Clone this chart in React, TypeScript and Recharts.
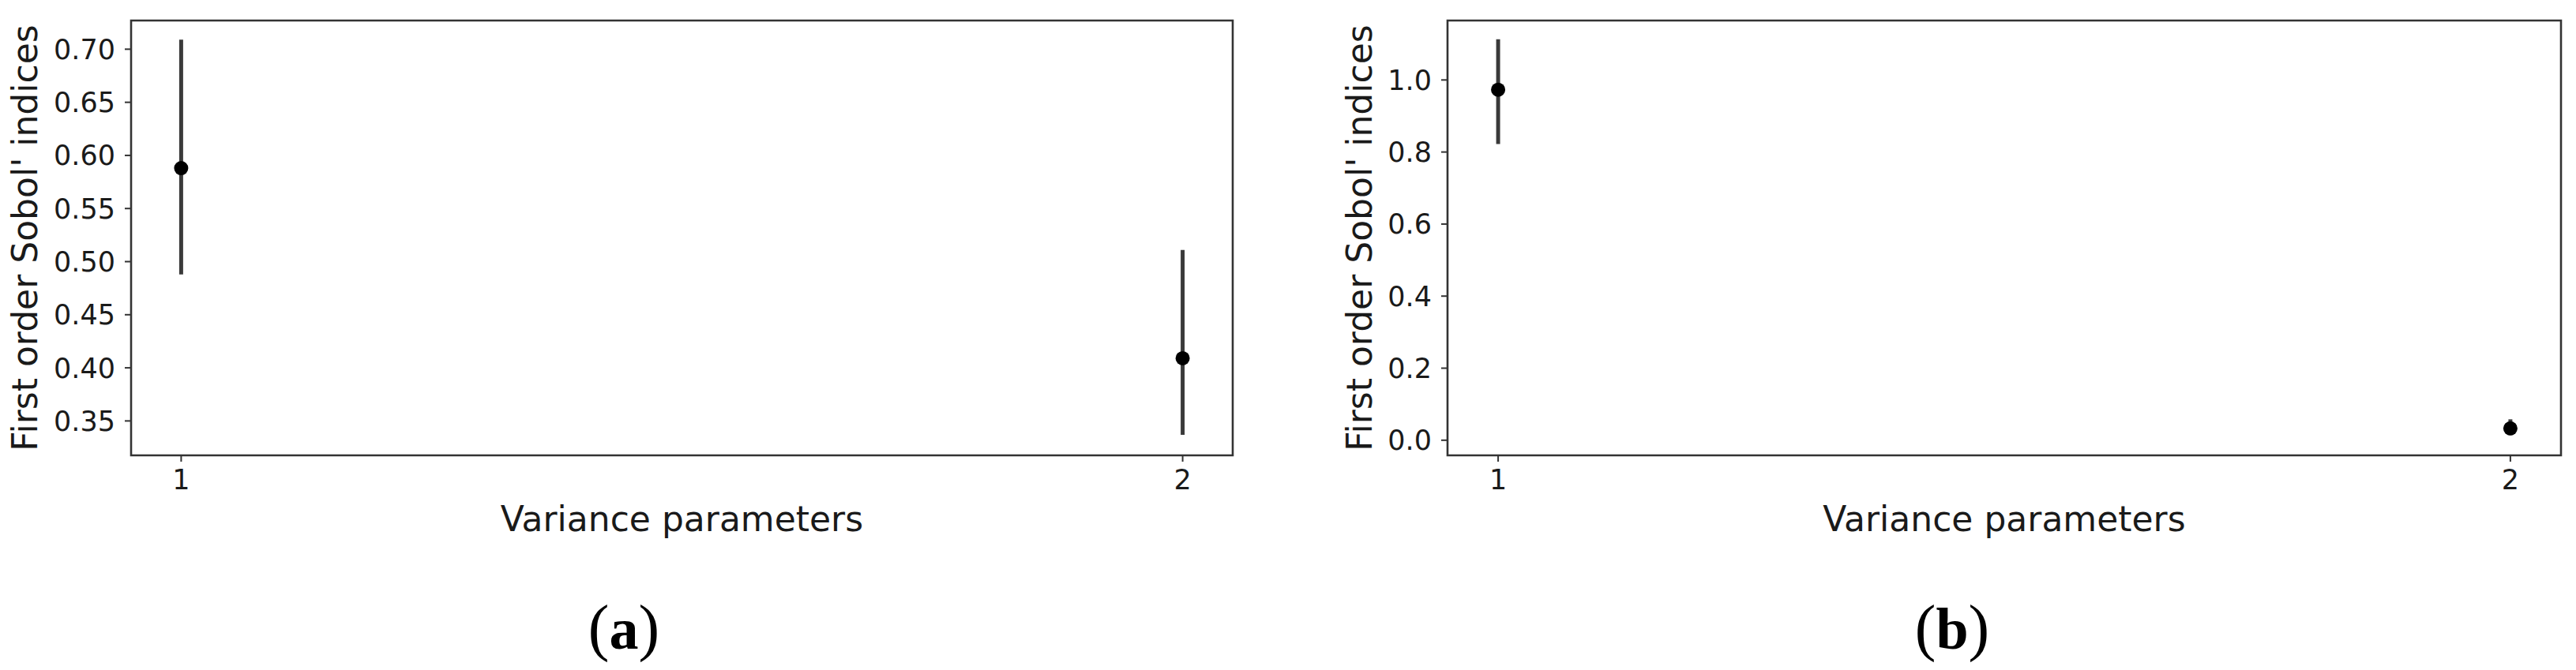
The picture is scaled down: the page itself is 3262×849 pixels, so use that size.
import React from "react";
import { ComposedChart, Scatter, XAxis, YAxis, ErrorBar, ReferenceArea } from "recharts";

// ---- data ----
const categories = [1, 2];
const xTicks = [1, 2];
const xDomain = [0.95, 2.05];

const valuesA = [0.588, 0.409];
const lowA = [0.488, 0.337];
const highA = [0.709, 0.511];
const yTicksA = [0.35, 0.4, 0.45, 0.5, 0.55, 0.6, 0.65, 0.7];
const yDomainA = [0.3176, 0.727];

const valuesB = [0.973, 0.033];
const lowB = [0.822, 0.014];
const highB = [1.113, 0.058];
const yTicksB = [0, 0.2, 0.4, 0.6, 0.8, 1.0];
const yDomainB = [-0.042, 1.165];

const xLabel = "Variance parameters";
const yLabel = "First order Sobol' indices";
const captionLetters = ["a", "b"];

const FONT = "DejaVu Sans";
const AXIS_COLOR = "#333333";

function buildData(vals: number[], lows: number[], highs: number[]) {
  return categories.map((c, i) => ({
    x: c,
    y: vals[i],
    err: [vals[i] - lows[i], highs[i] - vals[i]],
  }));
}

const Dot = (props: any) => <circle cx={props.cx} cy={props.cy} r={9} fill="#000" />;

type PanelProps = {
  left: number;
  yAxisWidth: number;
  marginRight: number;
  vals: number[];
  lows: number[];
  highs: number[];
  yTicks: number[];
  yDomain: number[];
  decimals: number;
  yLabelX: number;
};

function Panel(p: PanelProps) {
  const W = 1631;
  const H = 849;
  const data = buildData(p.vals, p.lows, p.highs);
  return (
    <div style={{ position: "absolute", left: p.left, top: 0, width: W, height: H }}>
      <ComposedChart
        width={W}
        height={H}
        data={data}
        margin={{ top: 26, left: 0, right: p.marginRight, bottom: 152 }}
      >
        <XAxis
          type="number"
          dataKey="x"
          domain={xDomain}
          ticks={xTicks}
          allowDataOverflow
          axisLine={false}
          tickLine={{ stroke: AXIS_COLOR, strokeWidth: 2 }}
          tickSize={8}
          tickMargin={10}
          height={120}
          tick={{ fontFamily: FONT, fontSize: 35, fill: "#1a1a1a" }}
          label={{
            content: (lp: any) => {
              const vb = lp.viewBox;
              return (
                <text
                  x={vb.x + vb.width / 2}
                  y={673}
                  textAnchor="middle"
                  fontFamily={FONT}
                  fontSize={44}
                  fill="#1a1a1a"
                >
                  {xLabel}
                </text>
              );
            },
          }}
        />
        <YAxis
          type="number"
          dataKey="y"
          domain={p.yDomain}
          ticks={p.yTicks}
          allowDataOverflow
          axisLine={false}
          tickLine={{ stroke: AXIS_COLOR, strokeWidth: 2 }}
          tickSize={8}
          tickMargin={12}
          width={p.yAxisWidth}
          tickFormatter={(v: number) => v.toFixed(p.decimals)}
          tick={{ fontFamily: FONT, fontSize: 35, fill: "#1a1a1a" }}
          label={{
            content: (lp: any) => {
              const vb = lp.viewBox;
              const cy = vb.y + vb.height / 2;
              return (
                <text
                  x={p.yLabelX}
                  y={cy}
                  transform={`rotate(-90, ${p.yLabelX}, ${cy})`}
                  textAnchor="middle"
                  fontFamily={FONT}
                  fontSize={44}
                  fill="#1a1a1a"
                >
                  {yLabel}
                </text>
              );
            },
          }}
        />
        <ReferenceArea
          x1={xDomain[0]}
          x2={xDomain[1]}
          y1={p.yDomain[0]}
          y2={p.yDomain[1]}
          fill="none"
          fillOpacity={0}
          stroke={AXIS_COLOR}
          strokeWidth={2.6}
          ifOverflow="visible"
        />
        <Scatter dataKey="y" shape={Dot} isAnimationActive={false}>
          <ErrorBar dataKey="err" direction="y" width={0} stroke="#3a3a3a" strokeWidth={5} />
        </Scatter>
      </ComposedChart>
    </div>
  );
}

function Caption({ x, letter }: { x: number; letter: string }) {
  return (
    <text x={x} y={822} textAnchor="middle" fontFamily="Liberation Serif" fill="#000">
      <tspan fontSize={80}>(</tspan>
      <tspan fontSize={74} fontWeight="bold">{letter}</tspan>
      <tspan fontSize={80}>)</tspan>
    </text>
  );
}

export default function App() {
  return (
    <div
      style={{
        position: "absolute",
        left: 0,
        top: 0,
        width: 3262,
        height: 849,
        background: "#fff",
        overflow: "hidden",
      }}
    >
      <Panel
        left={0}
        yAxisWidth={166}
        marginRight={70}
        vals={valuesA}
        lows={lowA}
        highs={highA}
        yTicks={yTicksA}
        yDomain={yDomainA}
        decimals={2}
        yLabelX={47}
      />
      <Panel
        left={1631}
        yAxisWidth={202}
        marginRight={19}
        vals={valuesB}
        lows={lowB}
        highs={highB}
        yTicks={yTicksB}
        yDomain={yDomainB}
        decimals={1}
        yLabelX={106}
      />
      <svg
        width={3262}
        height={849}
        style={{ position: "absolute", left: 0, top: 0, pointerEvents: "none" }}
      >
        <Caption x={790} letter={captionLetters[0]} />
        <Caption x={2472} letter={captionLetters[1]} />
      </svg>
    </div>
  );
}
